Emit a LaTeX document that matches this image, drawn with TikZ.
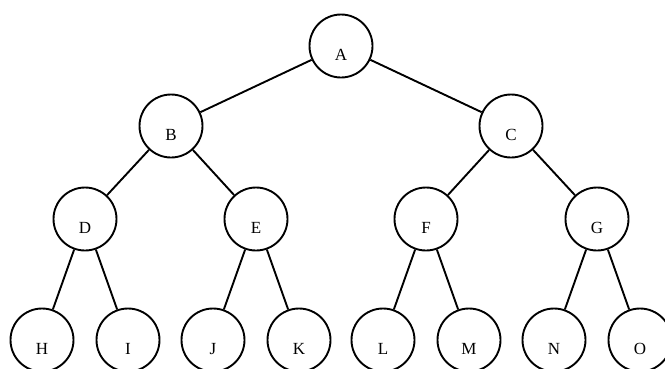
\documentclass[tikz,border=0pt]{standalone}
\usepackage{fontspec}
\setmainfont{Liberation Serif}
\usetikzlibrary{positioning}

\begin{document}
\begin{tikzpicture}[x=1pt, y=1pt, on grid,
	vtx/.style={circle, draw, line width=1.9pt, minimum size=63pt, inner sep=0pt,
		text height=28pt, text depth=0pt, font=\fontsize{17}{20}\selectfont}]

		\useasboundingbox (0,0) rectangle (665,-368);

		% nodes - upper levels %
		\node[vtx] (A) at (341,-46) {A};
		\node[vtx, below left = 80pt and 170pt of A] (B) {B};
		\node[vtx, below right = 80pt and 170pt of A] (C) {C};
		\node[vtx, below left = 93pt and 86pt of B] (D) {D};
		\node[vtx, below right = 93pt and 85pt of B] (E) {E};
		\node[vtx, below left = 93pt and 85pt of C] (F) {F};
		\node[vtx, below right = 93pt and 86pt of C] (G) {G};

		% nodes - leaves %
		\node[vtx, below left = 121pt and 43pt of D] (H) {H};
		\node[vtx, below right = 121pt and 43pt of D] (I) {I};
		\node[vtx, below left = 121pt and 43pt of E] (J) {J};
		\node[vtx, below right = 121pt and 43pt of E] (K) {K};
		\node[vtx, below left = 121pt and 43pt of F] (L) {L};
		\node[vtx, below right = 121pt and 43pt of F] (M) {M};
		\node[vtx, below left = 121pt and 43pt of G] (N) {N};
		\node[vtx, below right = 121pt and 43pt of G] (O) {O};

		% edges %
		\draw[line width=1.9pt] (A) -- (B);
		\draw[line width=1.9pt] (A) -- (C);
		\draw[line width=1.9pt] (B) -- (D);
		\draw[line width=1.9pt] (B) -- (E);
		\draw[line width=1.9pt] (C) -- (F);
		\draw[line width=1.9pt] (C) -- (G);
		\draw[line width=1.9pt] (D) -- (H);
		\draw[line width=1.9pt] (D) -- (I);
		\draw[line width=1.9pt] (E) -- (J);
		\draw[line width=1.9pt] (E) -- (K);
		\draw[line width=1.9pt] (F) -- (L);
		\draw[line width=1.9pt] (F) -- (M);
		\draw[line width=1.9pt] (G) -- (N);
		\draw[line width=1.9pt] (G) -- (O);

\end{tikzpicture}
\end{document}
